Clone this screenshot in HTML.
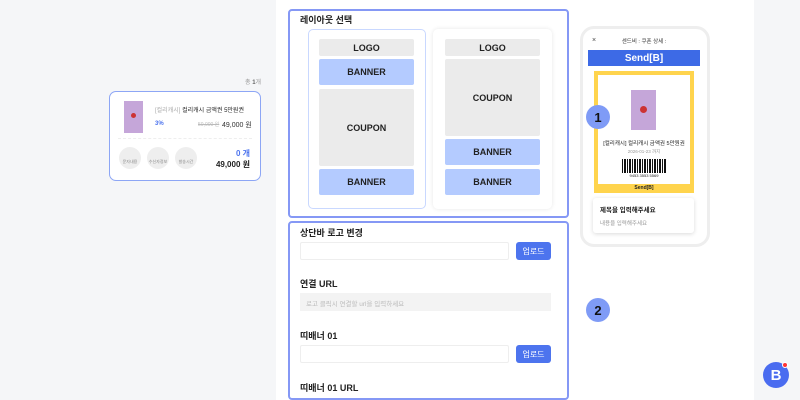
<!DOCTYPE html>
<html><head><meta charset="utf-8"><style>
*{box-sizing:border-box;margin:0;padding:0}
body{width:800px;height:400px;overflow:hidden;background:#f5f6f8;font-family:"Liberation Sans","Noto Sans CJK KR",sans-serif;position:relative;color:#222}
.a{position:absolute}
.panel{left:276px;top:0;width:478px;height:400px;background:#fff}
.box{border:2px solid #8598f5;border-radius:4px}
.blk{position:absolute;display:flex;align-items:center;justify-content:center;font-size:9px;font-weight:bold;color:#222;border-radius:2px}
.g{background:#ebebeb}.b{background:#b4cbff}
.lbl{font-size:9px;font-weight:bold;color:#222}
.inp{border:1px solid #eee;border-radius:2px;background:#fff}
.btn{background:#4d74ee;color:#fff;font-size:8px;display:flex;align-items:center;justify-content:center;border-radius:3px}
.num{width:24px;height:24px;border-radius:50%;background:#7f9bf6;color:#111;font-size:13px;font-weight:bold;display:flex;align-items:center;justify-content:center}
.ic{width:22px;height:22px;border-radius:50%;background:#eee;font-size:4px;color:#888;display:flex;align-items:flex-end;justify-content:center;padding-bottom:4px}
</style></head><body>
<div class="a panel"></div>

<div class="a" style="left:245px;top:77px;font-size:6px;color:#999">총 <b style="color:#666">1</b>개</div>
<div class="a" style="left:109px;top:91px;width:152px;height:90px;border:1.5px solid #8da6f5;border-radius:7px;background:#fff"></div>
<div class="a" style="left:124px;top:101px;width:19px;height:32px;background:#c5a6d9"></div>
<div class="a" style="left:131px;top:113px;width:5px;height:5px;border-radius:50%;background:#c33"></div>
<div class="a" style="left:155px;top:105px;font-size:6px;color:#222"><span style="color:#aaa">[컬리캐시]</span> 컬리캐시 금액권 5만원권</div>
<div class="a" style="left:155px;top:121px;font-size:6px;color:#4d74ee;font-weight:bold">3%</div>
<div class="a" style="left:198px;top:121px;font-size:5px;color:#bbb;text-decoration:line-through">50,000 원</div>
<div class="a" style="left:222px;top:120px;font-size:7px;color:#333">49,000 원</div>
<div class="a" style="left:118px;top:138px;width:134px;border-top:1px dashed #eee"></div>
<div class="a ic" style="left:119px;top:147px">문자내용</div>
<div class="a ic" style="left:147px;top:147px">수신자정보</div>
<div class="a ic" style="left:175px;top:147px">발송시간</div>
<div class="a" style="left:200px;top:148px;width:50px;text-align:right;font-size:8px;color:#4d74ee;font-weight:bold">0 개</div>
<div class="a" style="left:200px;top:159px;width:50px;text-align:right;font-size:8px;font-weight:bold">49,000 원</div>

<div class="a box" style="left:288px;top:9px;width:281px;height:209px"></div>
<div class="a lbl" style="left:300px;top:13px">레이아웃 선택</div>
<div class="a" style="left:308px;top:29px;width:118px;height:180px;border:1px solid #c9d8ff;border-radius:5px"></div>
<div class="a" style="left:433px;top:29px;width:119px;height:180px;border-radius:5px;box-shadow:0 0 4px rgba(0,0,0,.1)"></div>
<div class="blk g" style="left:319px;top:39px;width:95px;height:17px">LOGO</div>
<div class="blk b" style="left:319px;top:59px;width:95px;height:26px">BANNER</div>
<div class="blk g" style="left:319px;top:89px;width:95px;height:77px">COUPON</div>
<div class="blk b" style="left:319px;top:169px;width:95px;height:26px">BANNER</div>
<div class="blk g" style="left:445px;top:39px;width:95px;height:17px">LOGO</div>
<div class="blk g" style="left:445px;top:59px;width:95px;height:77px">COUPON</div>
<div class="blk b" style="left:445px;top:139px;width:95px;height:26px">BANNER</div>
<div class="blk b" style="left:445px;top:169px;width:95px;height:26px">BANNER</div>

<div class="a box" style="left:288px;top:221px;width:281px;height:179px"></div>
<div class="a lbl" style="left:300px;top:226px">상단바 로고 변경</div>
<div class="a inp" style="left:300px;top:242px;width:209px;height:18px"></div>
<div class="a btn" style="left:516px;top:242px;width:35px;height:18px">업로드</div>
<div class="a lbl" style="left:300px;top:277px">연결 URL</div>
<div class="a" style="left:300px;top:293px;width:251px;height:18px;background:#f3f3f3;font-size:6.5px;color:#bbb;padding:5px 6px">로고 클릭시 연결할 url을 입력하세요</div>
<div class="a lbl" style="left:300px;top:329px">띠배너 01</div>
<div class="a inp" style="left:300px;top:345px;width:209px;height:18px"></div>
<div class="a btn" style="left:516px;top:345px;width:35px;height:18px">업로드</div>
<div class="a lbl" style="left:300px;top:381px">띠배너 01 URL</div>

<div class="a" style="left:580px;top:26px;width:130px;height:221px;border:3px solid #eee;border-radius:14px;background:#fff"></div>
<div class="a" style="left:592px;top:37px;font-size:7px;color:#444">×</div>
<div class="a" style="left:588px;top:37px;width:112px;text-align:center;font-size:5.5px;color:#333">센드비 : 쿠폰 상세 :</div>
<div class="a" style="left:588px;top:50px;width:112px;height:16px;background:#3d6ae6;color:#fff;font-size:10px;font-weight:bold;display:flex;align-items:center;justify-content:center">Send[B]</div>
<div class="a" style="left:594px;top:71px;width:100px;height:122px;background:#ffd44d"></div>
<div class="a" style="left:598px;top:75px;width:92px;height:109px;background:#fff"></div>
<div class="a" style="left:631px;top:90px;width:25px;height:40px;background:#c5a6d9"></div>
<div class="a" style="left:640px;top:106px;width:7px;height:7px;border-radius:50%;background:#c33"></div>
<div class="a" style="left:598px;top:139px;width:92px;text-align:center;font-size:5.5px">[컬리캐시] 컬리캐시 금액권 5만원권</div>
<div class="a" style="left:598px;top:149px;width:92px;text-align:center;font-size:4.5px;color:#999">2026-01-23 까지</div>
<div class="a" style="left:622px;top:159px;width:44px;height:14px;background:repeating-linear-gradient(90deg,#111 0 1px,#fff 1px 2px,#111 2px 4px,#fff 4px 5px)"></div>
<div class="a" style="left:598px;top:173px;width:92px;text-align:center;font-size:4px">9453 3553 5569</div>
<div class="a" style="left:594px;top:185px;width:100px;text-align:center;font-size:5px;font-weight:bold">Send[B]</div>
<div class="a" style="left:593px;top:198px;width:101px;height:35px;background:#fff;border-radius:3px;box-shadow:0 1px 4px rgba(0,0,0,.15)"></div>
<div class="a" style="left:600px;top:204px;font-size:6.5px;font-weight:bold">제목을 입력해주세요</div>
<div class="a" style="left:600px;top:219px;font-size:5.5px;color:#999">내용을 입력해주세요</div>

<div class="a num" style="left:586px;top:105px">1</div>
<div class="a num" style="left:586px;top:298px">2</div>

<div class="a" style="left:763px;top:362px;width:26px;height:26px;border-radius:50%;background:#4a6cf0;color:#fff;font-weight:bold;font-size:15px;display:flex;align-items:center;justify-content:center">B</div>
<div class="a" style="left:782px;top:362px;width:6px;height:6px;border-radius:50%;background:#f33;border:1px solid #fff"></div>
</body></html>
